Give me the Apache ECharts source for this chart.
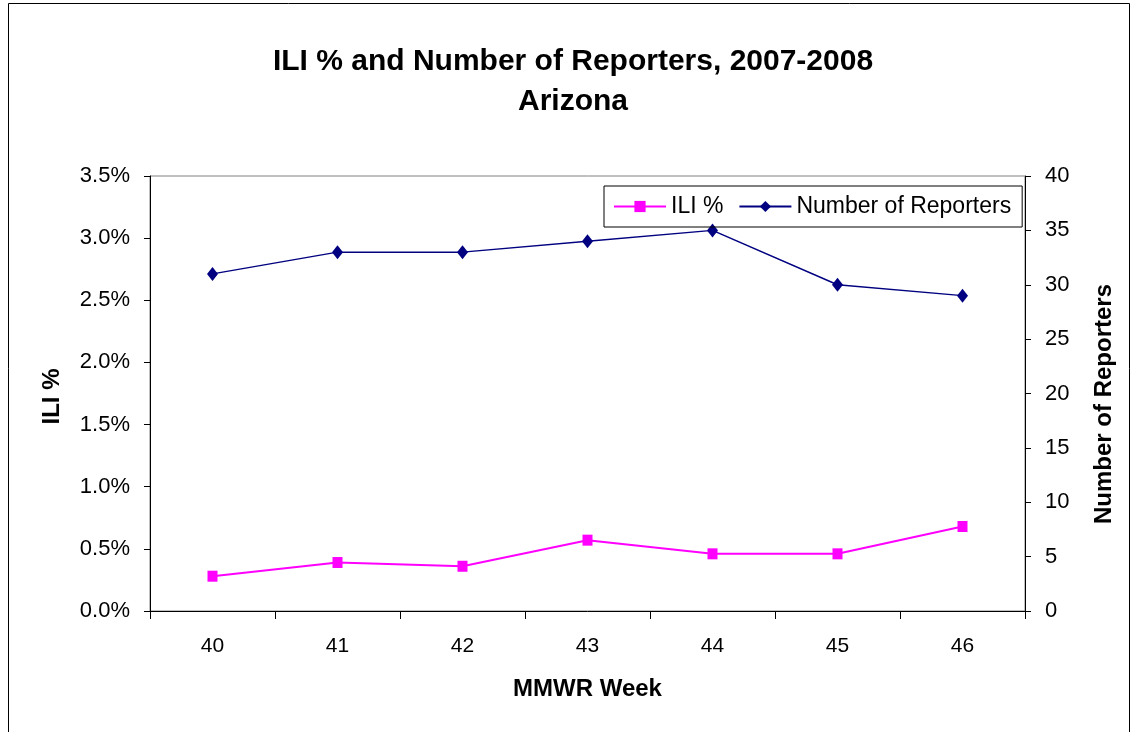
<!DOCTYPE html>
<html>
<head>
<meta charset="utf-8">
<script src="https://cdn.jsdelivr.net/npm/echarts@6/dist/echarts.min.js"></script>
<style>
  html, body { margin: 0; padding: 0; background: #fff; }
  #chart { width: 1132px; height: 732px; }
</style>
</head>
<body>
<div id="chart"></div>
<script>
const weeks = ['40', '41', '42', '43', '44', '45', '46'];
const iliPct = [0.28, 0.39, 0.36, 0.57, 0.46, 0.46, 0.68];
const reporters = [31, 33, 33, 34, 35, 30, 29];

const FONT = '"Liberation Sans", Arial, sans-serif';

const chart = echarts.init(document.getElementById('chart'));

const option = {
  backgroundColor: '#fff',
  animation: false,
  textStyle: { fontFamily: FONT },
  title: {
    text: 'ILI % and Number of Reporters, 2007-2008\nArizona',
    left: 573,
    top: 42,
    padding: 0,
    textAlign: 'center',
    textStyle: { fontSize: 30, fontWeight: 'bold', color: '#000', lineHeight: 40, fontFamily: FONT }
  },
  legend: {
    left: 604,
    top: 186,
    padding: [9, 11, 9, 9],
    borderColor: '#000',
    borderWidth: 1,
    itemWidth: 52,
    itemHeight: 14,
    itemGap: 15,
    textStyle: { fontSize: 23, color: '#000', fontFamily: FONT },
    data: ['ILI %', 'Number of Reporters']
  },
  grid: {
    left: 150,
    right: 107,
    top: 176,
    bottom: 121,
    show: true,
    borderColor: '#808080',
    borderWidth: 1
  },
  xAxis: {
    type: 'category',
    data: weeks,
    boundaryGap: true,
    name: 'MMWR Week',
    nameLocation: 'middle',
    nameGap: 66,
    nameTextStyle: { fontSize: 24, fontWeight: 'bold', color: '#000' },
    axisLine: { lineStyle: { color: '#000', width: 1 } },
    axisTick: { show: true, alignWithLabel: false, length: 8, lineStyle: { color: '#000' } },
    axisLabel: { fontSize: 21, color: '#000', margin: 25 },
    splitLine: { show: false }
  },
  yAxis: [
    {
      type: 'value',
      min: 0,
      max: 3.5,
      interval: 0.5,
      name: 'ILI %',
      nameLocation: 'middle',
      nameGap: 86,
      nameRotate: 90,
      nameTextStyle: { fontSize: 24, fontWeight: 'bold', color: '#000', padding: [0, 6, 0, 0] },
      axisLine: { show: true, lineStyle: { color: '#000' } },
      axisTick: { show: true, length: 6, lineStyle: { color: '#000' } },
      axisLabel: { fontSize: 22, color: '#000', margin: 20, formatter: v => v.toFixed(1) + '%' },
      splitLine: { show: false }
    },
    {
      type: 'value',
      min: 0,
      max: 40,
      interval: 5,
      name: 'Number of Reporters',
      nameLocation: 'middle',
      nameGap: 67,
      nameRotate: 90,
      nameTextStyle: { fontSize: 24, fontWeight: 'bold', color: '#000', padding: [0, 21, 0, 0] },
      axisLine: { show: true, lineStyle: { color: '#000' } },
      axisTick: { show: true, length: 6, lineStyle: { color: '#000' } },
      axisLabel: { fontSize: 22, color: '#000', margin: 20 },
      splitLine: { show: false }
    }
  ],
  series: [
    {
      name: 'ILI %',
      type: 'line',
      yAxisIndex: 0,
      data: iliPct,
      symbol: 'rect',
      symbolSize: [10, 11],
      color: '#ff00ff',
      lineStyle: { color: '#ff00ff', width: 2 },
      itemStyle: { color: '#ff00ff' }
    },
    {
      name: 'Number of Reporters',
      type: 'line',
      yAxisIndex: 1,
      data: reporters,
      symbol: 'diamond',
      symbolSize: [11, 14],
      color: '#000080',
      lineStyle: { color: '#000080', width: 1.5 },
      itemStyle: { color: '#000080' }
    }
  ],
  graphic: [
    {
      type: 'rect',
      shape: { x: 8.5, y: 3.5, width: 1121, height: 760 },
      style: { fill: 'none', stroke: '#000', lineWidth: 1 },
      silent: true
    }
  ]
};

chart.setOption(option);
</script>
</body>
</html>
